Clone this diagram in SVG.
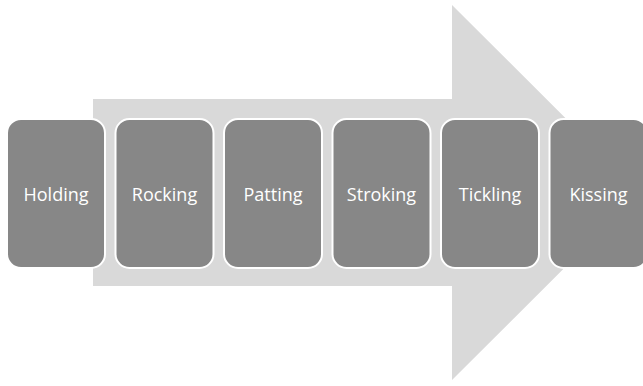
<svg xmlns="http://www.w3.org/2000/svg" width="643" height="386" viewBox="0 0 643 386">
  <style>
    .step rect { fill: #878787; stroke: #ffffff; stroke-width: 2; }
    .step text { fill: #ffffff; font-family: "Open Sans", "Liberation Sans", sans-serif; font-size: 18px; text-anchor: middle; dominant-baseline: central; }
  </style>
  <rect width="643" height="386" fill="#ffffff"/>
  <!-- background process arrow -->
  <g id="connectors">
    <polygon points="93,99 452,99 452,5 640,192.5 452,380 452,286 93,286" fill="#d9d9d9"/>
  </g>
  <g id="holding" class="step">
    <rect x="7" y="119" width="98" height="149" rx="14"/>
    <text x="56" y="193.5">Holding</text>
  </g>
  <g id="rocking" class="step">
    <rect x="115.5" y="119" width="98" height="149" rx="14"/>
    <text x="164.5" y="193.5">Rocking</text>
  </g>
  <g id="patting" class="step">
    <rect x="224" y="119" width="98" height="149" rx="14"/>
    <text x="273" y="193.5">Patting</text>
  </g>
  <g id="stroking" class="step">
    <rect x="332.5" y="119" width="98" height="149" rx="14"/>
    <text x="381.5" y="193.5">Stroking</text>
  </g>
  <g id="tickling" class="step">
    <rect x="441" y="119" width="98" height="149" rx="14"/>
    <text x="490" y="193.5">Tickling</text>
  </g>
  <g id="kissing" class="step">
    <rect x="549.5" y="119" width="98" height="149" rx="14"/>
    <text x="598.5" y="193.5">Kissing</text>
  </g>
</svg>
